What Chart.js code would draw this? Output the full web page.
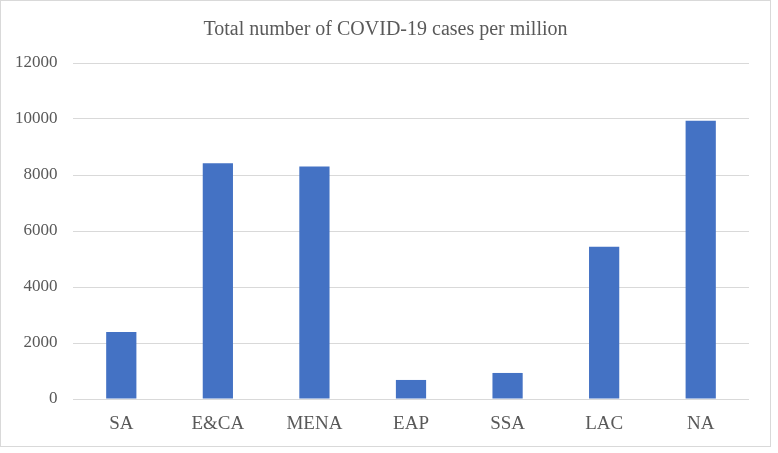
<!DOCTYPE html>
<html>
<head>
<meta charset="utf-8">
<script src="https://cdn.jsdelivr.net/npm/chart.js@4"></script>
<style>
  body { margin: 0; background: #fff; }
  #wrap { position: absolute; left: 0; top: 0; width: 769px; height: 445px; border: 1px solid #d9d9d9; }
</style>
</head>
<body>
<div id="wrap"><canvas id="bar-chart" width="769" height="445"></canvas></div>
<script>
var regions = ['SA', 'E&CA', 'MENA', 'EAP', 'SSA', 'LAC', 'NA'];
var casesPerMillion = [2390, 8420, 8300, 680, 930, 5440, 9940];
var yTicks = [0, 2000, 4000, 6000, 8000, 10000, 12000];

var textColor = '#595959';
var serif = "'Liberation Serif', 'Times New Roman', serif";

var ctx = document.getElementById('bar-chart').getContext('2d');
var barChart = new Chart(ctx, {
    type: 'bar',
    data: {
        labels: regions,
        datasets: [
            {
                data: casesPerMillion,
                label: 'cases per million',
                backgroundColor: '#4472C4',
                borderWidth: 0,
                categoryPercentage: 1,
                barPercentage: 0.313
            }
        ]
    },
    options: {
        responsive: false,
        animation: false,
        layout: {
            padding: { left: 21, right: 21, top: 0, bottom: 7 }
        },
        scales: {
            x: {
                grid: { display: false, drawTicks: false },
                border: { display: false },
                ticks: {
                    color: textColor,
                    padding: 14,
                    font: { family: serif, size: 19 }
                },
                afterFit: function (scale) { scale.height = 40; }
            },
            y: {
                min: yTicks[0],
                max: yTicks[yTicks.length - 1],
                grid: { color: '#d9d9d9', lineWidth: 1, drawTicks: false },
                border: { display: false },
                ticks: {
                    stepSize: yTicks[1] - yTicks[0],
                    color: textColor,
                    // mirrored so the labels are not clipped to the narrow axis box
                    mirror: true,
                    crossAlign: 'far',
                    padding: -58,
                    font: { family: serif, size: 17 },
                    callback: function (v) { return String(v); }
                },
                afterFit: function (scale) { scale.width = 51; }
            }
        },
        plugins: {
            legend: { display: false },
            tooltip: { enabled: false },
            title: {
                display: true,
                text: 'Total number of COVID-19 cases per million',
                color: textColor,
                font: { family: serif, size: 20, weight: 'normal' },
                padding: { top: 17, bottom: 21 }
            }
        }
    }
});
</script>
</body>
</html>
